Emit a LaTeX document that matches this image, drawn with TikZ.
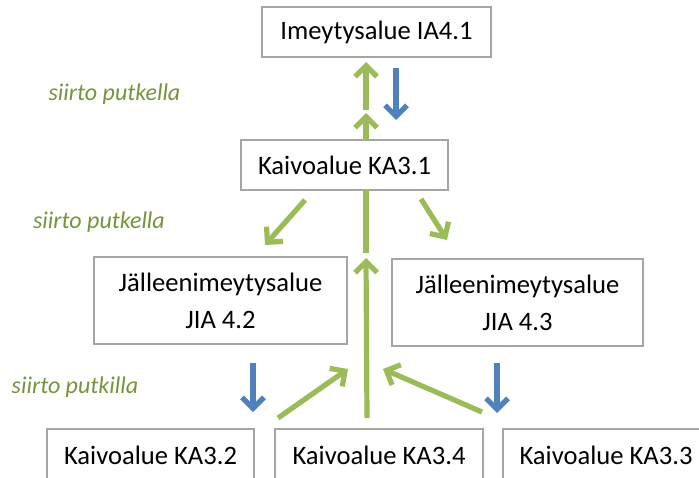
\documentclass[tikz,border=0pt]{standalone}
\usepackage{fontspec}
\setmainfont{Carlito}
\usepackage{tikz}
\usetikzlibrary{arrows.meta}

\definecolor{pipegreen}{RGB}{155,187,89}
\definecolor{flowblue}{RGB}{79,129,189}
\definecolor{notegreen}{RGB}{119,147,60}
\definecolor{boxgray}{RGB}{165,165,165}

\begin{document}
\begin{tikzpicture}[x=0.5pt,y=-0.5pt,
    area/.style={draw=boxgray,line width=0.8pt,inner sep=0pt,align=center,
        font=\fontsize{13.3}{18.5}\selectfont},
    note/.style={text=notegreen,font=\fontsize{12}{14}\selectfont\itshape},
    pipe/.style={pipegreen,line width=2.6pt},
    flow/.style={flowblue,line width=2.6pt}]
\useasboundingbox (0,0) rectangle (699,477);
\begin{scope}[>={Straight Barb[length=5.5pt,width=11pt]}]

    % areas
    \node[area,minimum width=114.5pt,minimum height=25pt] (ia41) at (376.5,32) {Imeytysalue IA4.1};
    \node[area,minimum width=103.5pt,minimum height=25pt] (ka31) at (344.5,165) {Kaivoalue KA3.1};
    \node[area,minimum width=126.5pt,minimum height=43.5pt] (jia42) at (220.5,300.5) {Jälleenimeytysalue\\JIA 4.2};
    \node[area,minimum width=125.5pt,minimum height=43.5pt] (jia43) at (517.5,302.5) {Jälleenimeytysalue\\JIA 4.3};
    \node[area,minimum width=103.5pt,minimum height=26pt] (ka32) at (150.5,455) {Kaivoalue KA3.2};
    \node[area,minimum width=104pt,minimum height=26pt] (ka34) at (379,455) {Kaivoalue KA3.4};
    \node[area,minimum width=103pt,minimum height=26pt] (ka33) at (606,455) {Kaivoalue KA3.3};

    % notes
    \node[note] (n1) at (114.5,94) {siirto putkella};
    \node[note] (n2) at (99,222) {siirto putkella};
    \node[note] (n3) at (75,387) {siirto putkilla};

    % arrow ends
    \coordinate (up1a) at (366,110);  \coordinate (up1b) at (366,62);
    \coordinate (up2a) at (366,140);  \coordinate (up2b) at (366,113);
    \coordinate (dn1a) at (396,68);   \coordinate (dn1b) at (396,120);
    \coordinate (dgla) at (305,200);  \coordinate (dglb) at (265,245);
    \coordinate (dgra) at (421,199);  \coordinate (dgrb) at (447,240);
    \coordinate (vta) at (366,190);   \coordinate (vtb) at (366,253);
    \coordinate (vba) at (367,418);   \coordinate (vbb) at (366,258);
    \coordinate (bla) at (278,418);   \coordinate (blb) at (348,369);
    \coordinate (bra) at (482,412);   \coordinate (brb) at (383,369);
    \coordinate (dn2a) at (253,363);  \coordinate (dn2b) at (253,412);
    \coordinate (dn3a) at (497,363);  \coordinate (dn3b) at (497,413);

    \draw[pipe,->] (up1a) -- (up1b);
    \draw[pipe,->] (up2a) -- (up2b);
    \draw[flow,->] (dn1a) -- (dn1b);
    \draw[pipe,->] (dgla) -- (dglb);
    \draw[pipe,->] (dgra) -- (dgrb);
    \draw[pipe] (vta) -- (vtb);
    \draw[pipe,->] (vba) -- (vbb);
    \draw[pipe,->] (bla) -- (blb);
    \draw[pipe,->] (bra) -- (brb);
    \draw[flow,->] (dn2a) -- (dn2b);
    \draw[flow,->] (dn3a) -- (dn3b);
\end{scope}
\end{tikzpicture}
\end{document}
